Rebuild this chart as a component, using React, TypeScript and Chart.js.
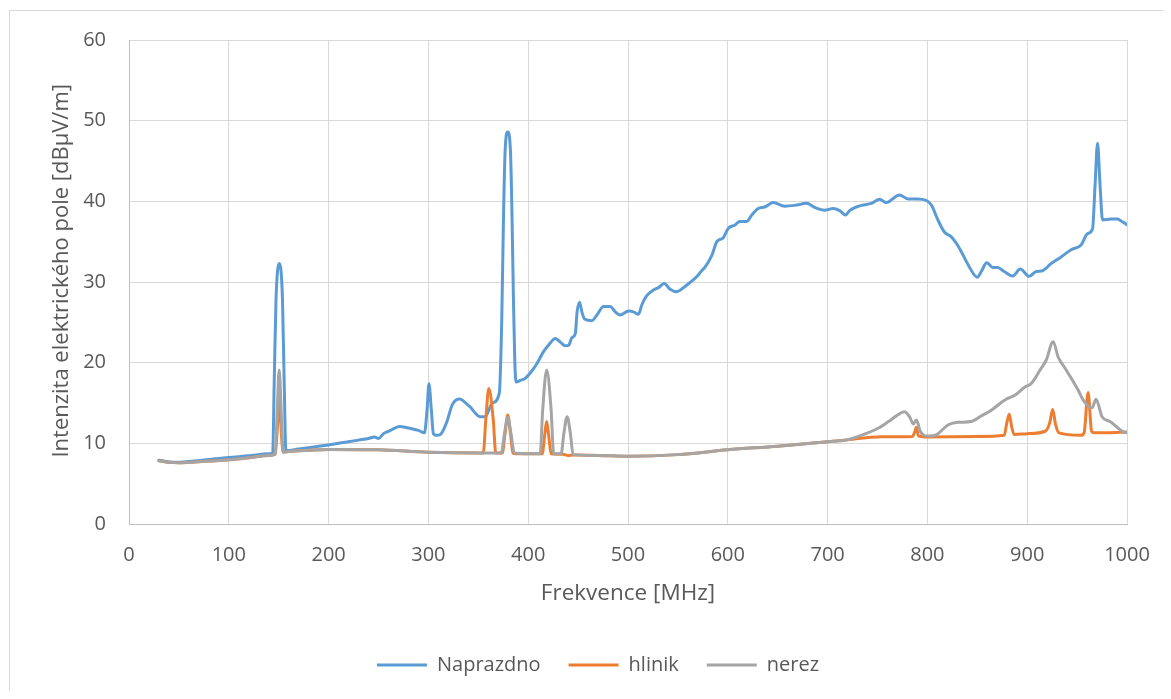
import { useEffect, useRef } from "react";
import { Chart, registerables } from "chart.js";

Chart.register(...registerables);

const FONT = "'Open Sans', sans-serif";
const TEXT = "#595959";

const SERIES_NAMES = ["Naprazdno", "hlinik", "nerez"];
const SERIES_COLORS = ["#5B9BD5", "#ED7D31", "#A5A5A5"];
const X_TITLE = "Frekvence [MHz]";
const Y_TITLE = "Intenzita elektrického pole [dBµV/m]";

const naprazdnoMHz = [
  30, 40, 47, 60, 80, 100, 120, 140, 144, 145.5,
  147.3, 150.5, 153.8, 155.5, 157.2, 170, 185, 200, 215, 230,
  240, 246, 250, 255, 262, 271, 280, 290, 296, 298.8,
  300.5, 302.8, 305, 308, 312, 318, 324, 331, 341, 352,
  357, 364, 371, 373.5, 375.2, 376.8, 379.5, 382.3, 383.8, 385.2,
  386.5, 387.8, 392, 397, 403.8, 408.8, 415.5, 420.5, 427.2, 432.2,
  437.2, 440.5, 443.8, 447.2, 449, 451.5, 453.8, 456.5, 463.8, 468.8,
  475.5, 482.2, 487.2, 492.2, 500.5, 505.5, 510.5, 513.8, 518.8, 525.5,
  530.5, 536.2, 542.2, 548.8, 555.5, 562.2, 568.8, 573.8, 577, 584,
  589, 595.5, 600.5, 607, 612, 619, 624, 630.5, 637, 645.5,
  657, 667, 679, 687, 697, 705.5, 712, 718, 722, 734,
  744, 752, 759, 772, 780.5, 790.5, 799, 804, 810.5, 817,
  824, 829, 834, 840.5, 850, 854, 859.5, 865.5, 870.5, 877,
  885.5, 893, 902, 909, 915.5, 924, 934, 944, 954, 960.5,
  965.5, 968, 970.5, 973, 975.5, 983.8, 990.5, 993.8, 998.8, 1000,
];
const naprazdnoDb = [
  7.9, 7.7, 7.65, 7.75, 8.0, 8.25, 8.45, 8.7, 8.8, 17.5,
  27.8, 32.3, 27.8, 17.5, 9.1, 9.3, 9.55, 9.8, 10.1, 10.4,
  10.6, 10.8, 10.6, 11.2, 11.6, 12.1, 11.9, 11.6, 11.3, 14.4,
  17.4, 14.4, 11.2, 11.0, 11.1, 12.5, 14.8, 15.5, 14.6, 13.3,
  13.3, 15.0, 16.2, 25.3, 37.7, 46, 48.6, 46, 38, 28,
  20.5, 17.6, 17.8, 18.05, 19.0, 19.9, 21.4, 22.2, 23.0, 22.55,
  22.1, 22.15, 23.1, 23.6, 26.3, 27.5, 26.3, 25.4, 25.2, 25.9,
  26.95, 26.95, 26.3, 25.9, 26.4, 26.3, 26.0, 27.15, 28.3, 29.0,
  29.3, 29.8, 29.1, 28.8, 29.3, 29.95, 30.65, 31.4, 31.8, 33.3,
  35.0, 35.5, 36.65, 37.05, 37.5, 37.5, 38.3, 39.1, 39.3, 39.85,
  39.4, 39.5, 39.75, 39.25, 38.9, 39.1, 38.85, 38.3, 38.85, 39.5,
  39.75, 40.25, 39.85, 40.8, 40.3, 40.3, 40.1, 39.55, 37.7, 36.2,
  35.6, 34.8, 33.75, 32.2, 30.6, 31.3, 32.4, 31.8, 31.8, 31.3,
  30.75, 31.6, 30.7, 31.3, 31.4, 32.3, 33.1, 34.0, 34.6, 36.0,
  36.6, 42, 47.2, 42, 37.7, 37.8, 37.8, 37.6, 37.2, 37.1,
];

const hlinikMHz = [
  30, 40, 50, 60, 80, 100, 120, 140, 146.5, 148.7, 150.5, 152.3, 154.5, 160, 180, 200, 250,
  300, 350, 355, 357.5, 360.5, 365, 367.5, 369, 374, 376.8, 379.5, 382.2, 385, 400, 414, 416.5,
  418.5, 420.5, 423, 435, 440, 445, 470, 500, 550, 600, 650, 700, 725, 750, 785, 787,
  789, 791, 800, 850, 877, 879.5, 882, 884.5, 887, 900, 918, 922.5, 925.5, 928.5, 932,
  954, 957, 961, 964.5, 967, 980, 1000,
];
const hlinikDb = [
  7.85, 7.65, 7.6, 7.65, 7.8, 7.95, 8.2, 8.5, 8.65, 12, 16.5, 12, 8.9, 9.0, 9.15, 9.25, 9.2,
  8.9, 8.8, 8.8, 12.9, 16.8, 12.9, 8.8, 8.8, 8.8, 11.2, 13.5, 11.2, 8.75, 8.7, 8.7, 11,
  12.7, 11, 8.7, 8.65, 8.5, 8.55, 8.5, 8.4, 8.6, 9.2, 9.65, 10.2, 10.5, 10.8, 10.85, 11.3,
  12.0, 10.9, 10.8, 10.85, 11.0, 12.5, 13.6, 12.0, 11.1, 11.2, 11.5, 12.5, 14.2, 12.3, 11.3,
  11.0, 11.3, 16.3, 11.5, 11.3, 11.3, 11.4,
];

const nerezMHz = [
  30, 40, 50, 60, 80, 100, 120, 140, 146.5, 148.5, 150.5, 152.5, 154.5, 160, 180, 200, 250,
  300, 350, 373, 376.2, 379.5, 382.8, 386, 400, 412, 414.5, 418.5, 423, 425.5, 433, 435.7,
  439, 442.3, 445, 470, 500, 550, 600, 650, 700, 720, 737, 751, 761, 769, 777, 782, 786,
  789, 793, 801, 808, 821, 831, 844, 854, 864, 878, 888, 898, 904, 914, 919, 926, 931,
  937, 944, 951, 957, 965, 969, 975, 983, 996, 1000,
];
const nerezDb = [
  7.85, 7.65, 7.6, 7.65, 7.8, 7.95, 8.2, 8.5, 8.65, 14, 19.1, 14, 8.9, 9.0, 9.15, 9.25, 9.2,
  8.9, 8.8, 8.8, 11.2, 13.2, 11.2, 8.8, 8.7, 8.7, 14.1, 19.1, 14.1, 8.7, 8.7, 11.2,
  13.3, 11.2, 8.6, 8.5, 8.4, 8.6, 9.2, 9.65, 10.2, 10.45, 11.15, 11.9, 12.7, 13.4, 13.9, 13.3, 12.4,
  12.9, 11.45, 10.9, 11.0, 12.3, 12.6, 12.7, 13.4, 14.1, 15.4, 16.0, 17.0, 17.4, 19.3, 20.3, 22.6, 20.7,
  19.5, 18.1, 16.6, 15.2, 14.4, 15.45, 13.3, 12.7, 11.45, 11.3,
];

const X_MIN = 0;
const X_MAX = 1000;
const X_STEP = 100;
const Y_MIN = 0;
const Y_MAX = 60;
const Y_STEP = 10;

const toPoints = (xs: number[], ys: number[]) => xs.map((x, i) => ({ x, y: ys[i] }));

const zeroPadding = (s: any) => {
  s.paddingLeft = 0;
  s.paddingRight = 0;
  s.paddingTop = 0;
  s.paddingBottom = 0;
};

export default function App() {
  const ref = useRef<HTMLCanvasElement | null>(null);

  useEffect(() => {
    if (!ref.current) return;
    Chart.defaults.font.family = FONT;

    const yTitlePlugin = {
      id: "yTitleCustom",
      afterDraw(chart: any) {
        const ctx = chart.ctx;
        ctx.save();
        ctx.translate(53.5, 262.8);
        ctx.rotate(-Math.PI / 2);
        ctx.font = `22px ${FONT}`;
        ctx.fillStyle = TEXT;
        ctx.textAlign = "center";
        ctx.textBaseline = "middle";
        ctx.fillText(Y_TITLE, 0, 0);
        ctx.restore();
      },
    };

    const seriesData = [
      toPoints(naprazdnoMHz, naprazdnoDb),
      toPoints(hlinikMHz, hlinikDb),
      toPoints(nerezMHz, nerezDb),
    ];

    const chart = new Chart(ref.current, {
      type: "line",
      data: {
        datasets: SERIES_NAMES.map((name, i) => ({
          label: name,
          data: seriesData[i],
          borderColor: SERIES_COLORS[i],
          backgroundColor: SERIES_COLORS[i],
          borderWidth: 3,
          pointRadius: 0,
          pointHoverRadius: 0,
          fill: false,
          cubicInterpolationMode: "monotone",
          borderCapStyle: "round",
          borderJoinStyle: "round",
          order: 2 - i,
        })),
      },
      options: {
        animation: false,
        responsive: false,
        maintainAspectRatio: false,
        layout: { padding: { left: 61, right: 36, top: 32, bottom: 6 } },
        plugins: {
          tooltip: { enabled: false },
          legend: {
            position: "bottom",
            labels: {
              usePointStyle: true,
              pointStyle: "line",
              pointStyleWidth: 50,
              color: TEXT,
              font: { size: 20, family: FONT },
              padding: 28,
              sort: (a: any, b: any) => a.datasetIndex - b.datasetIndex,
            },
          },
        },
        scales: {
          x: {
            type: "linear",
            min: X_MIN,
            max: X_MAX,
            ticks: {
              stepSize: X_STEP,
              color: TEXT,
              font: { size: 20, family: FONT },
              padding: 19,
              maxRotation: 0,
              callback: (v: any) => String(v),
            },
            grid: { color: "#d9d9d9", lineWidth: 1, drawTicks: false },
            border: { color: "#bfbfbf", width: 1 },
            title: {
              display: true,
              text: X_TITLE,
              color: TEXT,
              font: { size: 22.5, family: FONT },
              padding: { top: 0, bottom: 19.5 },
            },
            afterFit: (s: any) => {
              s.height = 103;
              zeroPadding(s);
            },
          },
          y: {
            type: "linear",
            min: Y_MIN,
            max: Y_MAX,
            ticks: {
              stepSize: Y_STEP,
              color: TEXT,
              font: { size: 20, family: FONT },
              padding: 23,
              callback: (v: any) => String(v),
            },
            grid: { color: "#d9d9d9", lineWidth: 1, drawTicks: false },
            border: { color: "#bfbfbf", width: 1 },
            afterFit: (s: any) => {
              s.width = 60;
              zeroPadding(s);
            },
          },
        },
      },
      plugins: [yTitlePlugin],
    } as any);

    return () => chart.destroy();
  }, []);

  return (
    <div style={{ position: "relative", width: 1155, height: 683, overflow: "hidden", background: "#fff" }}>
      <div
        style={{
          position: "absolute",
          left: 1,
          top: 2,
          width: 1300,
          height: 800,
          border: "1px solid #d9d9d9",
        }}
      />
      <canvas
        ref={ref}
        width={1155}
        height={683}
        style={{ position: "absolute", left: 0, top: 0, display: "block" }}
      />
    </div>
  );
}
